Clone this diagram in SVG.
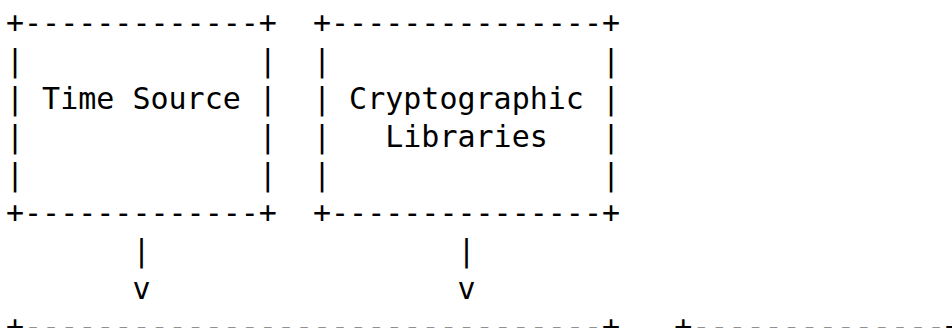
<svg xmlns="http://www.w3.org/2000/svg" width="952" height="328" viewBox="0 0 952 328">
<style>
  text { font-family: "DejaVu Sans Mono", "Liberation Mono", monospace; font-size: 30px; fill: #000; white-space: pre; }
</style>
<rect x="0" y="0" width="952" height="328" fill="#fff"/>
<g id="time-source" xml:space="preserve">
  <text x="6" y="33">+-------------+</text>
  <text x="6" y="71">|             |</text>
  <text x="6" y="109">| Time Source |</text>
  <text x="6" y="147">|             |</text>
  <text x="6" y="185">|             |</text>
  <text x="6" y="223">+-------------+</text>
</g>
<g id="crypto-libraries" xml:space="preserve">
  <text x="313" y="33">+---------------+</text>
  <text x="313" y="71">|               |</text>
  <text x="313" y="109">| Cryptographic |</text>
  <text x="313" y="147">|   Libraries   |</text>
  <text x="313" y="185">|               |</text>
  <text x="313" y="223">+---------------+</text>
</g>
<g id="bottom-left-box" xml:space="preserve">
  <text x="6" y="337">+--------------------------------+</text>
</g>
<g id="bottom-right-box" xml:space="preserve">
  <text x="674.2" y="337">+--------------+</text>
</g>
<g id="connectors" xml:space="preserve">
  <text x="132.4" y="261">|</text>
  <text x="132.4" y="299">v</text>
  <text x="457.5" y="261">|</text>
  <text x="457.5" y="299">v</text>
</g>
</svg>
